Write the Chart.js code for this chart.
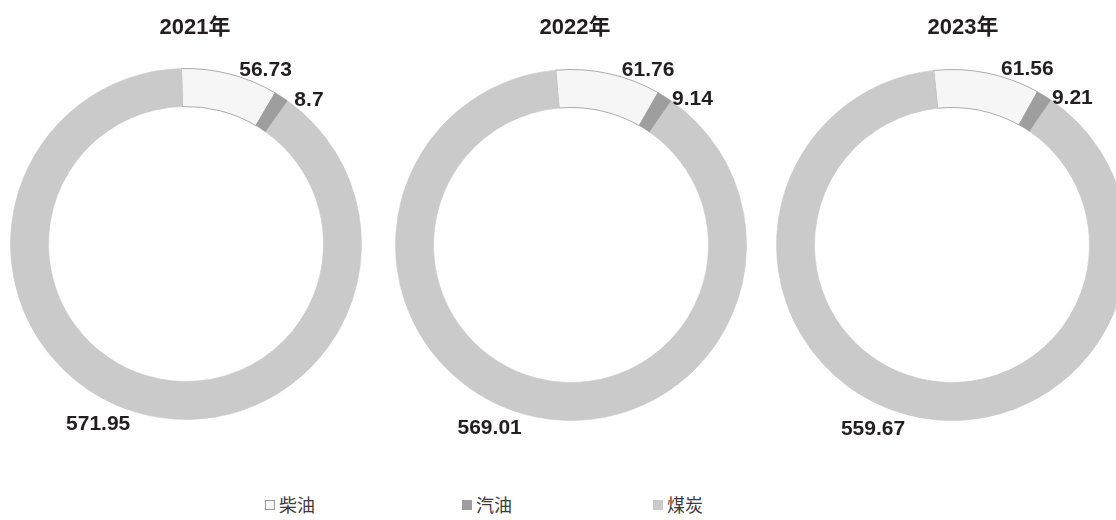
<!DOCTYPE html>
<html>
<head>
<meta charset="utf-8">
<script src="https://cdn.jsdelivr.net/npm/chart.js@4"></script>
<style>
  html, body { margin: 0; padding: 0; background: #fff; overflow: hidden; }
  #stage { position: relative; width: 1116px; height: 520px; overflow: hidden; }
  .ring { position: absolute; width: 440px; height: 440px; }
  .year {
    position: absolute; top: 13px; width: 160px; text-align: center;
    font: bold 22px "Liberation Sans", Arial, "Noto Sans CJK SC", sans-serif;
    color: #231f20; line-height: 28px;
  }
  .key {
    position: absolute; top: 491px; height: 24px; line-height: 24px; white-space: nowrap;
    font: 18px "Noto Sans CJK SC", sans-serif; color: #3e3a39;
  }
  .swatch {
    display: inline-block; width: 10px; height: 10px; margin-right: 4px;
    vertical-align: middle; position: relative; top: -2px; box-sizing: border-box;
  }
</style>
</head>
<body>
<div id="stage"></div>
<script>
// Energy use by fuel type, one ring per year
const years = ['2021年', '2022年', '2023年'];
const fuels = ['柴油', '汽油', '煤炭'];
const diesel = [56.73, 61.76, 61.56];
const gasoline = [8.7, 9.14, 9.21];
const coal = [571.95, 569.01, 559.67];

// Layout of the three rings (centres in page pixels) and their headings
const RING_CENTRES = [[186, 244], [570.5, 245], [952, 245]];
const TITLE_CENTRES = [195, 575, 963];
const RING_ROTATION = [-1.5, -5, -6];
const LEGEND_LEFT = [265, 462, 653];

const FILL = ['#f6f6f6', '#9d9e9d', '#c9cac9'];
const EDGE = ['#8a8a8a', '#9d9e9d', '#c9cac9'];
const EDGE_W = [0.7, 0.6, 0.6];

// Value labels placed just outside the ring, relative to each arc
const LABEL_PLACE = [
  { edge: 'end', shift: -6, gap: 16 },
  { edge: 'end', shift: 5, gap: 14 },
  { edge: 'mid', shift: 9, gap: 25 }
];

const ringLabels = {
  id: 'ringLabels',
  afterDatasetsDraw(chart) {
    const meta = chart.getDatasetMeta(0);
    const values = chart.data.datasets[0].data;
    const ctx = chart.ctx;
    ctx.save();
    ctx.font = 'bold 21px "Liberation Sans", Arial, sans-serif';
    ctx.fillStyle = '#231f20';
    ctx.textAlign = 'center';
    ctx.textBaseline = 'middle';
    meta.data.forEach((arc, k) => {
      const p = arc.getProps(['x', 'y', 'startAngle', 'endAngle', 'outerRadius'], true);
      const place = LABEL_PLACE[k];
      const base = place.edge === 'end' ? p.endAngle : (p.startAngle + p.endAngle) / 2;
      const a = base + place.shift * Math.PI / 180;
      const r = p.outerRadius + place.gap;
      ctx.fillText(String(values[k]), p.x + r * Math.cos(a), p.y + r * Math.sin(a));
    });
    ctx.restore();
  }
};

const stage = document.getElementById('stage');

years.forEach((year, i) => {
  const [cx, cy] = RING_CENTRES[i];
  const canvas = document.createElement('canvas');
  canvas.className = 'ring';
  canvas.width = 440;
  canvas.height = 440;
  canvas.style.left = (cx - 220) + 'px';
  canvas.style.top = (cy - 220) + 'px';
  stage.appendChild(canvas);

  new Chart(canvas, {
    type: 'doughnut',
    data: {
      labels: fuels,
      datasets: [{
        data: [diesel[i], gasoline[i], coal[i]],
        backgroundColor: FILL,
        borderColor: EDGE,
        borderWidth: EDGE_W
      }]
    },
    options: {
      responsive: false,
      animation: false,
      events: [],
      radius: 175.5,
      cutout: '78.35%',
      rotation: RING_ROTATION[i],
      layout: { padding: 0 },
      plugins: { legend: { display: false }, tooltip: { enabled: false } }
    },
    plugins: [ringLabels]
  });

  const title = document.createElement('div');
  title.className = 'year';
  title.textContent = year;
  title.style.left = (TITLE_CENTRES[i] - 80) + 'px';
  stage.appendChild(title);
});

fuels.forEach((name, k) => {
  const item = document.createElement('div');
  item.className = 'key';
  item.style.left = LEGEND_LEFT[k] + 'px';
  const sw = document.createElement('span');
  sw.className = 'swatch';
  sw.style.background = FILL[k];
  sw.style.border = '1px solid ' + (k === 0 ? '#9a9a9a' : FILL[k]);
  item.appendChild(sw);
  item.appendChild(document.createTextNode(name));
  stage.appendChild(item);
});
</script>
</body>
</html>
